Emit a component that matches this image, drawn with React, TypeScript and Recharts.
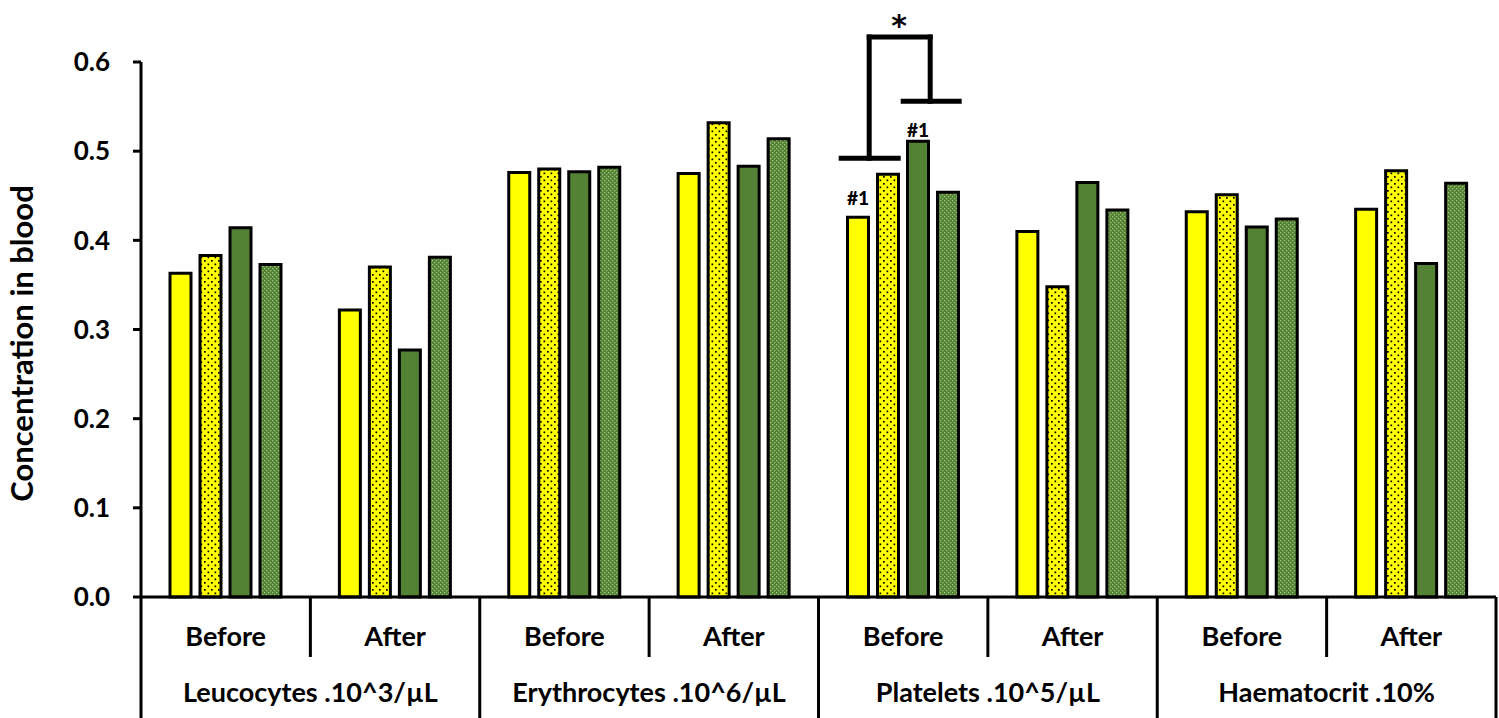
import React from 'react';
import { BarChart, Bar, XAxis, YAxis, ReferenceLine, ReferenceDot, LabelList } from 'recharts';

const subLabels = ['Before', 'After', 'Before', 'After', 'Before', 'After', 'Before', 'After'];
const groupLabels = ['Leucocytes .10^3/µL', 'Erythrocytes .10^6/µL', 'Platelets .10^5/µL', 'Haematocrit .10%'];

const plainYellow = [0.363, 0.322, 0.476, 0.475, 0.426, 0.41, 0.432, 0.435];
const dottedYellow = [0.383, 0.37, 0.48, 0.532, 0.474, 0.348, 0.451, 0.478];
const plainGreen = [0.414, 0.277, 0.477, 0.483, 0.511, 0.465, 0.415, 0.374];
const dottedGreen = [0.373, 0.381, 0.482, 0.514, 0.454, 0.434, 0.424, 0.464];

const plainYellowMarks = ['', '', '', '', '#1', '', '', ''];
const plainGreenMarks = ['', '', '', '', '#1', '', '', ''];

const yTicks = [0, 0.1, 0.2, 0.3, 0.4, 0.5, 0.6];

const data = subLabels.map((sub, i) => ({
  cat: `${groupLabels[Math.floor(i / 2)]} ${sub}`,
  plainYellow: plainYellow[i],
  dottedYellow: dottedYellow[i],
  plainGreen: plainGreen[i],
  dottedGreen: dottedGreen[i],
  yellowMark: plainYellowMarks[i],
  greenMark: plainGreenMarks[i],
}));

// significance bracket over platelets "Before": y in data units,
// dx = horizontal pixel offsets from the category centre
const bracketCat = data[4].cat;
const bracketSegments = [
  { dx1: -62, y1: 0.492, dx2: -5, y2: 0.492 },
  { dx1: -34, y1: 0.492, dx2: -34, y2: 0.628 },
  { dx1: -34, y1: 0.628, dx2: 27, y2: 0.628 },
  { dx1: 27, y1: 0.628, dx2: 27, y2: 0.556 },
  { dx1: 0, y1: 0.556, dx2: 56, y2: 0.556 },
];
const starValue = 0.65;

const FONT = "Lato, 'Open Sans', sans-serif";
const YELLOW = '#FFFF00';
const GREEN = '#548235';

const XTick = (props: any) => {
  const { x, y, payload, index } = props;
  const half = payload.offset ?? 0;
  const left = x - half;
  const startsGroup = index % 2 === 0;
  return (
    <g>
      <line x1={left} x2={left} y1={y} y2={y + (startsGroup ? 121 : 60)} stroke="#000" strokeWidth={3} />
      {index === subLabels.length - 1 && (
        <line x1={x + half} x2={x + half} y1={y} y2={y + 121} stroke="#000" strokeWidth={3} />
      )}
      <text x={x} y={y + 49} textAnchor="middle" fontFamily={FONT} fontWeight={700} fontSize={27} fill="#000">
        {subLabels[index]}
      </text>
      {!startsGroup && (
        <text x={left} y={y + 105} textAnchor="middle" fontFamily={FONT} fontWeight={700} fontSize={27} fill="#000">
          {groupLabels[(index - 1) / 2]}
        </text>
      )}
    </g>
  );
};

const markLabel = (lift: number) => (props: any) => {
  const { x, y, width, value } = props;
  if (!value) return null;
  return (
    <text x={x + width / 2} y={y - lift} textAnchor="middle" fontFamily={FONT} fontWeight={900} fontSize={19} fill="#000">
      {value}
    </text>
  );
};

const YLabel = (props: any) => {
  const { viewBox } = props;
  const cx = 21;
  const cy = viewBox.y + viewBox.height / 2 + 14;
  return (
    <text
      x={cx}
      y={cy}
      transform={`rotate(-90 ${cx} ${cy})`}
      textAnchor="middle"
      dominantBaseline="central"
      fontFamily={FONT}
      fontWeight={700}
      fontSize={31}
      fill="#000"
    >
      Concentration in blood
    </text>
  );
};

const bracketShape = (dx1: number, dx2: number) => (p: any) => (
  <line
    x1={p.x1 + dx1}
    y1={p.y1}
    x2={p.x2 + dx2}
    y2={p.y2}
    stroke="#000"
    strokeWidth={5}
    strokeLinecap="square"
  />
);

export default function App() {
  return (
    <div style={{ position: 'absolute', left: 0, top: 0, background: '#fff' }}>
      <BarChart
        width={1499}
        height={718}
        data={data}
        margin={{ top: 62, right: 3, bottom: 0, left: 0 }}
        barSize={21}
        barGap={9}
      >
        <defs>
          <pattern id="yellowDots" width="7" height="7" patternUnits="userSpaceOnUse">
            <rect width="7" height="7" fill={YELLOW} />
            <rect x="1" y="1" width="1.7" height="1.7" fill="#000" />
            <rect x="4.5" y="4.5" width="1.7" height="1.7" fill="#000" />
          </pattern>
          <pattern id="greenDots" width="4" height="4" patternUnits="userSpaceOnUse">
            <rect width="4" height="4" fill={GREEN} />
            <rect x="0" y="0" width="1.3" height="1.3" fill="#9cc47f" />
            <rect x="2" y="2" width="1.3" height="1.3" fill="#9cc47f" />
          </pattern>
        </defs>
        <XAxis
          dataKey="cat"
          interval={0}
          height={121}
          tickLine={false}
          tickSize={0}
          tickMargin={0}
          axisLine={{ stroke: '#000', strokeWidth: 3 }}
          tick={<XTick />}
        />
        <YAxis
          width={141}
          domain={[0, 0.6]}
          ticks={yTicks}
          interval={0}
          tickFormatter={(v: number) => v.toFixed(1)}
          tickSize={8}
          tickMargin={23}
          axisLine={{ stroke: '#000', strokeWidth: 3 }}
          tickLine={{ stroke: '#000', strokeWidth: 3 }}
          tick={{ fill: '#000', fontFamily: FONT, fontWeight: 700, fontSize: 26 }}
          label={{ content: (p: any) => <YLabel {...p} /> }}
        />
        <Bar dataKey="plainYellow" fill={YELLOW} stroke="#000" strokeWidth={3} isAnimationActive={false}>
          <LabelList dataKey="yellowMark" content={markLabel(12)} />
        </Bar>
        <Bar dataKey="dottedYellow" fill="url(#yellowDots)" stroke="#000" strokeWidth={3} isAnimationActive={false} />
        <Bar dataKey="plainGreen" fill={GREEN} stroke="#000" strokeWidth={3} isAnimationActive={false}>
          <LabelList dataKey="greenMark" content={markLabel(4)} />
        </Bar>
        <Bar dataKey="dottedGreen" fill="url(#greenDots)" stroke="#000" strokeWidth={3} isAnimationActive={false} />
        {bracketSegments.map((s, i) => (
          <ReferenceLine
            key={i}
            segment={[
              { x: bracketCat, y: s.y1 },
              { x: bracketCat, y: s.y2 },
            ]}
            ifOverflow="visible"
            shape={bracketShape(s.dx1, s.dx2)}
          />
        ))}
        <ReferenceDot
          x={bracketCat}
          y={starValue}
          ifOverflow="visible"
          shape={(p: any) => (
            <text
              x={p.cx - 4}
              y={p.cy + 19}
              textAnchor="middle"
              fontFamily="'DejaVu Sans', sans-serif"
              fontWeight={700}
              fontSize={30}
              fill="#000"
            >
              *
            </text>
          )}
        />
      </BarChart>
    </div>
  );
}
